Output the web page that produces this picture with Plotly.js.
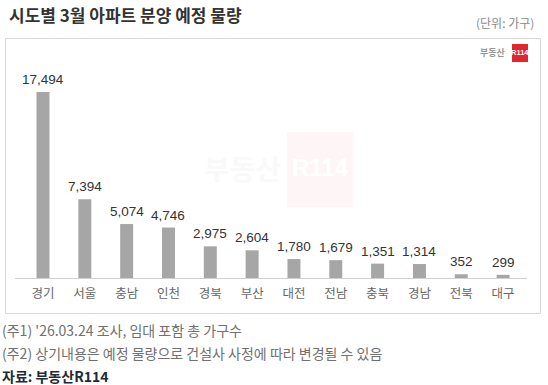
<!DOCTYPE html>
<html>
<head>
<meta charset="utf-8">
<script src="https://cdn.plot.ly/plotly-3.0.1.min.js"></script>
<style>
html,body{margin:0;padding:0;background:#fff;}
#chart{width:548px;height:385px;}
</style>
</head>
<body>
<div id="chart"></div>
<script>
var regions = ['경기','서울','충남','인천','경북','부산','대전','전남','충북','경남','전북','대구'];
var units = [17494,7394,5074,4746,2975,2604,1780,1679,1351,1314,352,299];
var titleText = '시도별 3월 아파트 분양 예정 물량';
var unitText = '(단위: 가구)';
var notes = ["(주1) '26.03.24 조사, 임대 포함 총 가구수", '(주2) 상기내용은 예정 물량으로 건설사 사정에 따라 변경될 수 있음'];
var sourceText = '자료: 부동산R114';

var W = 548, H = 385;
function px(x){return x/W;}
function py(y){return 1 - y/H;}

var KFONT = 'Noto Sans CJK KR, sans-serif';
var NFONT = 'Liberation Sans, Arial, Noto Sans CJK KR, sans-serif';

var trace = {
  type: 'bar',
  x: regions,
  y: units,
  width: 0.31,
  marker: {color: '#a6a6a6'},
  cliponaxis: false,
  hoverinfo: 'skip'
};

var valueLabels = regions.map(function(r, i){
  return {xref:'x', yref:'y', x:r, y:units[i], xanchor:'center', yanchor:'bottom', yshift:3,
    showarrow:false, text:units[i].toLocaleString('en-US'),
    font:{family:NFONT, size:13.5, color:'#333333'}};
});

var layout = {
  width: W, height: H,
  margin: {l:0, r:0, t:0, b:0},
  paper_bgcolor: '#ffffff',
  plot_bgcolor: 'rgba(0,0,0,0)',
  showlegend: false,
  xaxis: {
    domain: [px(20), px(524)],
    showline: false, showgrid: false, zeroline: false,
    ticks: '', ticklabelstandoff: 6,
    tickfont: {family: KFONT, size: 12.5, color: '#666666'},
    fixedrange: true
  },
  yaxis: {
    domain: [py(278), py(70)],
    range: [0, 19560],
    visible: false,
    fixedrange: true
  },
  shapes: [
    {type:'rect', xref:'paper', yref:'paper', x0:px(5.5), x1:px(540.5), y0:py(313.5), y1:py(38.5),
     line:{color:'#d6d6d6', width:1}, fillcolor:'rgba(0,0,0,0)', layer:'below'},
    {type:'rect', xref:'paper', yref:'paper', x0:px(287), x1:px(353), y0:py(207), y1:py(132),
     line:{width:0}, fillcolor:'#fef6f6', layer:'below'},
    {type:'rect', xref:'paper', yref:'paper', x0:px(512), x1:px(528), y0:py(62), y1:py(44),
     line:{width:0}, fillcolor:'#e3262d', layer:'above'},
    {type:'line', xref:'paper', yref:'paper', x0:px(15), x1:px(527), y0:py(278.5), y1:py(278.5),
     line:{color:'#d0d0d0', width:1}, layer:'above'}
  ],
  annotations: [
    {xref:'paper', yref:'paper', x:px(7), y:py(14), xanchor:'left', yanchor:'middle', showarrow:false,
     text:'<b>'+titleText+'</b>', font:{family:KFONT, size:17, color:'#333333'}},
    {xref:'paper', yref:'paper', x:px(536), y:py(22), xanchor:'right', yanchor:'middle', showarrow:false,
     text:unitText, font:{family:KFONT, size:12, color:'#8a8a8a'}},
    {xref:'paper', yref:'paper', x:px(508), y:py(53), xanchor:'right', yanchor:'middle', showarrow:false,
     text:'<b>부동산</b>', font:{family:KFONT, size:9, color:'#999999'}},
    {xref:'paper', yref:'paper', x:px(520), y:py(53), xanchor:'center', yanchor:'middle', showarrow:false,
     text:'<b>R114</b>', font:{family:NFONT, size:7.5, color:'#ffffff'}},
    {xref:'paper', yref:'paper', x:px(283), y:py(168), xanchor:'right', yanchor:'middle', showarrow:false,
     text:'<b>부동산</b>', font:{family:KFONT, size:28, color:'#f9f9f9'}},
    {xref:'paper', yref:'paper', x:px(320), y:py(168), xanchor:'center', yanchor:'middle', showarrow:false,
     text:'<b>R114</b>', font:{family:NFONT, size:24, color:'#ffffff'}},
    {xref:'paper', yref:'paper', x:px(0), y:py(330), xanchor:'left', yanchor:'middle', showarrow:false,
     text:notes[0], font:{family:KFONT, size:14, color:'#707070'}},
    {xref:'paper', yref:'paper', x:px(0), y:py(353), xanchor:'left', yanchor:'middle', showarrow:false,
     text:notes[1], font:{family:KFONT, size:14, color:'#707070'}},
    {xref:'paper', yref:'paper', x:px(0), y:py(376), xanchor:'left', yanchor:'middle', showarrow:false,
     text:'<b>'+sourceText+'</b>', font:{family:KFONT, size:14, color:'#1f2a36'}}
  ].concat(valueLabels)
};

Plotly.newPlot('chart', [trace], layout, {displayModeBar:false, staticPlot:true});
</script>
</body>
</html>
